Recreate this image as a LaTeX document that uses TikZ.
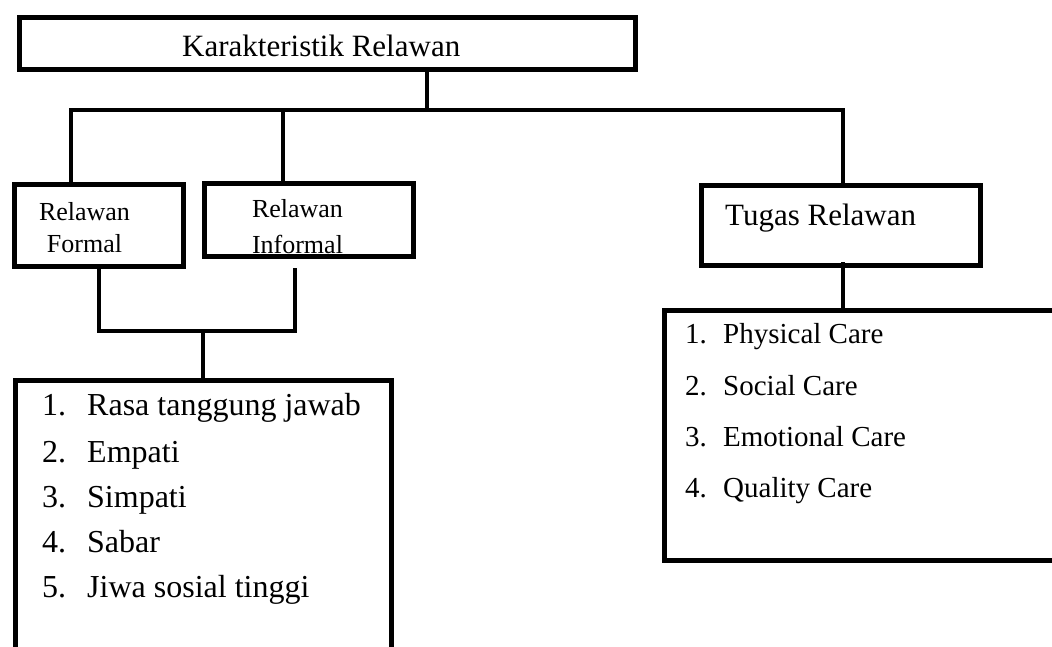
\documentclass[tikz,border=0pt]{standalone}
\usepackage{fontspec}
\setmainfont{Liberation Serif}
\begin{document}
\begin{tikzpicture}[x=1pt,y=-1pt,
  box/.style={draw,line width=5pt,inner sep=0pt},
  conn/.style={line width=4.5pt},
  big/.style={font=\fontsize{31}{37}\selectfont,inner sep=0pt,anchor=base west},
  mid/.style={font=\fontsize{26}{32}\selectfont,inner sep=0pt,anchor=base},
  litem/.style={font=\fontsize{32}{38}\selectfont,inner sep=0pt,anchor=base west},
  ritem/.style={font=\fontsize{29}{35}\selectfont,inner sep=0pt,anchor=base west}]
\path[use as bounding box, clip] (0,0) rectangle (1052,646);
\fill[white] (0,0) rectangle (1052,646);

% boxes
\node[box, minimum width=616pt, minimum height=52pt] (top) at (327,43) {};
\node[box, minimum width=169pt, minimum height=82pt] (formal) at (98.5,225) {};
\node[box, minimum width=209pt, minimum height=73pt] (informal) at (308.5,219.5) {};
\node[box, minimum width=279pt, minimum height=80pt] (tugas) at (840.5,225) {};
\node[box, minimum width=376pt, minimum height=340pt] (llist) at (203,550) {};
\node[box, minimum width=406pt, minimum height=250pt] (rlist) at (867,435) {};

% texts
\node[big] (toptext) at (182,56) {Karakteristik Relawan};
\node[mid] (f1) at (84.5,220) {Relawan};
\node[mid] (f2) at (84.5,252) {Formal};
\node[mid] (i1) at (297.5,217) {Relawan};
\node[mid] (i2) at (297.5,253) {Informal};
\node[big] (tugastext) at (725,225) {Tugas Relawan};

\node[litem] (ln1) at (42,415) {1.};
\node[litem] (lt1) at (87,415) {Rasa tanggung jawab};
\node[litem] (ln2) at (42,462) {2.};
\node[litem] (lt2) at (87,462) {Empati};
\node[litem] (ln3) at (42,507) {3.};
\node[litem] (lt3) at (87,507) {Simpati};
\node[litem] (ln4) at (42,552) {4.};
\node[litem] (lt4) at (87,552) {Sabar};
\node[litem] (ln5) at (42,597) {5.};
\node[litem] (lt5) at (87,597) {Jiwa sosial tinggi};

\node[ritem] (rn1) at (685,343) {1.};
\node[ritem] (rt1) at (723,343) {Physical Care};
\node[ritem] (rn2) at (685,395) {2.};
\node[ritem] (rt2) at (723,395) {Social Care};
\node[ritem] (rn3) at (685,446) {3.};
\node[ritem] (rt3) at (723,446) {Emotional Care};
\node[ritem] (rn4) at (685,497) {4.};
\node[ritem] (rt4) at (723,497) {Quality Care};

% connectors
\coordinate (j0) at (427,110);
\coordinate (j1) at (71,110);
\coordinate (j2) at (283,110);
\coordinate (j3) at (843,110);
\draw[conn] (top.south -| j0) -- (j0);
\draw[conn] (formal.north -| j1) -- (j1) -- (j3) -- (tugas.north -| j3);
\draw[conn] (j2) -- (informal.north -| j2);

\coordinate (k0) at (203,331);
\coordinate (k1) at (99,331);
\coordinate (k2) at (295,331);
\coordinate (k2top) at (295,268);
\draw[conn] (formal.south -| k1) -- (k1) -- (k2) -- (k2top);
\draw[conn] (k0) -- (llist.north -| k0);

\coordinate (t0) at (843,262);
\draw[conn] (t0) -- (rlist.north -| t0);
\end{tikzpicture}
\end{document}
